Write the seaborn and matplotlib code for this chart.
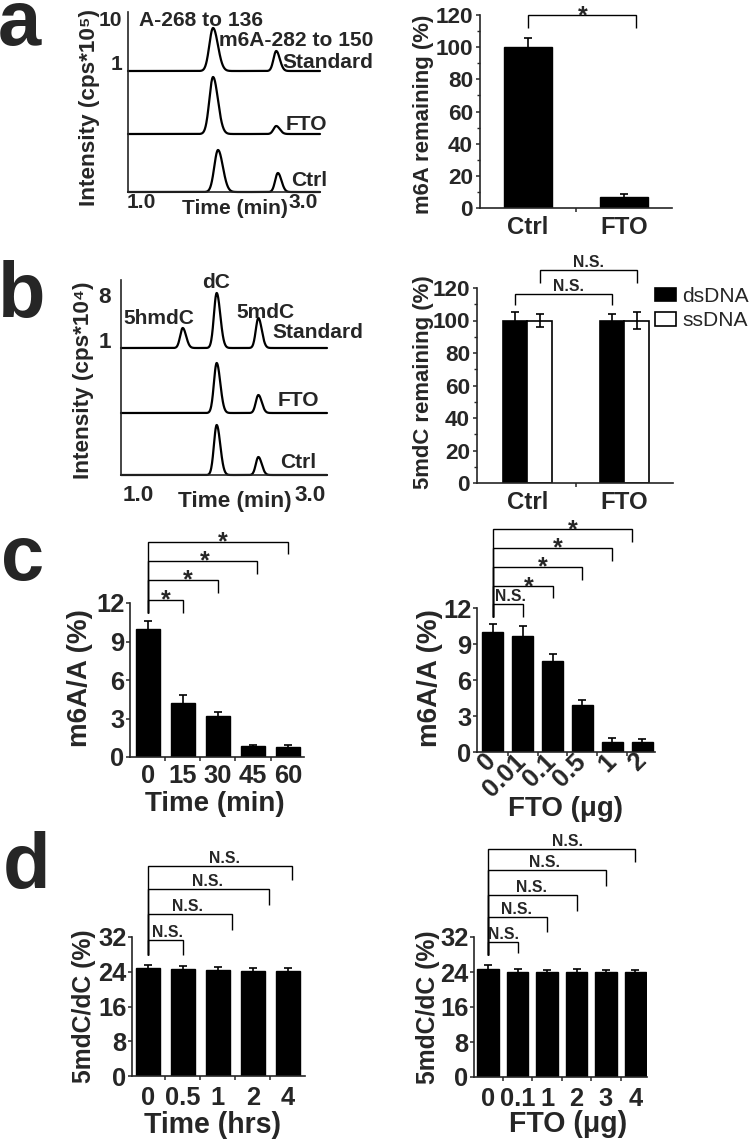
import numpy as np
import pandas as pd
import seaborn as sns
import matplotlib
matplotlib.use('Agg')
import matplotlib.pyplot as plt
from matplotlib import font_manager
from matplotlib.patches import Patch
from matplotlib.transforms import Affine2D

W, H = 750, 1143

# ---- chromatograms (peak positions in min, heights in display units) ----
a_traces = ['Standard', 'FTO', 'Ctrl']
a_offset = [121, 58, 0]
a_A_pos = [1.885, 1.885, 1.945]
a_A_height = [43, 57, 42]
a_m6A_pos = [2.65, 2.65, 2.67]
a_m6A_height = [20, 8, 19]

b_traces = ['Standard', 'FTO', 'Ctrl']
b_offset = [127, 62, 0]
b_5hmdC_pos = [1.52, 1.52, 1.52]
b_5hmdC_height = [20, 0, 0]
b_dC_pos = [1.915, 1.915, 1.915]
b_dC_height = [55, 50, 50]
b_5mdC_pos = [2.40, 2.40, 2.40]
b_5mdC_height = [30, 18, 18]

# ---- bar data ----
a_groups = ['Ctrl', 'FTO']
a_remaining = [100, 6.8]
a_err = [5.5, 2.2]

b_groups = ['Ctrl', 'FTO']
b_ds = [100, 100]
b_ds_err = [5, 4]
b_ss = [100, 100]
b_ss_err = [4, 5]

c_time = ['0', '15', '30', '45', '60']
c_time_val = [10.0, 4.2, 3.2, 0.85, 0.8]
c_time_err = [0.6, 0.6, 0.3, 0.12, 0.12]

c_dose = ['0', '0.01', '0.1', '0.5', '1', '2']
c_dose_val = [10.0, 9.7, 7.6, 3.9, 0.8, 0.8]
c_dose_err = [0.7, 0.8, 0.55, 0.4, 0.35, 0.25]

d_time = ['0', '0.5', '1', '2', '4']
d_time_val = [24.8, 24.7, 24.3, 24.2, 24.2]
d_time_err = [0.7, 0.6, 0.8, 0.6, 0.6]

d_dose = ['0', '0.1', '1', '2', '3', '4']
d_dose_val = [24.7, 24.1, 24.1, 24.1, 24.1, 24.0]
d_dose_err = [0.8, 0.7, 0.3, 0.6, 0.4, 0.5]

# ---- fonts ----
sns.set_style('ticks')
names = {f.name for f in font_manager.fontManager.ttflist}
NARROW = 'Liberation Sans Narrow' in names
FONT = 'Liberation Sans Narrow' if NARROW else 'Liberation Sans'
WIDE = 'Liberation Sans'
SC = 1 / 0.82 if NARROW else 1.08


def fs(x):
    return x * SC


plt.rcParams['font.family'] = [FONT, 'Liberation Sans', 'DejaVu Sans']
plt.rcParams['font.weight'] = 'bold'
plt.rcParams['axes.labelweight'] = 'bold'
plt.rcParams['axes.linewidth'] = 1.2

fig = plt.figure(figsize=(W / 100, H / 100), dpi=100)
PX = Affine2D().scale(1 / W, -1 / H).translate(0, 1) + fig.transFigure


def add_ax(x0, y0, x1, y1):
    return fig.add_axes([x0 / W, 1 - y1 / H, (x1 - x0) / W, (y1 - y0) / H])


def place_labels(ax, xl=None, yl=None):
    if xl is not None:
        ax.xaxis.set_label_coords(xl[0], xl[1], transform=PX)
        ax.xaxis.label.set_va('center')
    if yl is not None:
        ax.yaxis.set_label_coords(yl[0], yl[1], transform=PX)
        ax.yaxis.label.set_va('center')


def peak(t, pos, h, sig):
    s = np.where(t < pos, sig, sig * 1.3)
    return h * np.exp(-0.5 * ((t - pos) / s) ** 2)


# ================= chromatogram a =================
ax = add_ax(128, 12, 320, 192)
t = np.linspace(0.855, 3.18, 800)
frames = []
for i, name in enumerate(a_traces):
    y = a_offset[i] + peak(t, a_A_pos[i], a_A_height[i], 0.045) + peak(t, a_m6A_pos[i], a_m6A_height[i], 0.033)
    frames.append(pd.DataFrame({'time': t, 'signal': y, 'trace': name}))
sns.lineplot(data=pd.concat(frames), x='time', y='signal', units='trace', estimator=None,
             color='black', linewidth=1.6, sort=False, legend=False, ax=ax)
for ln in ax.lines:
    ln.set_clip_on(False)
ax.set_xlim(0.855, 3.18)
ax.set_ylim(0, 180)
ax.set_xticks([1.02, 2.98], ['1.0', '3.0'])
ax.set_yticks([174, 130], ['10', '1'])
ax.tick_params(length=0, labelsize=fs(14))
ax.tick_params(axis='x', pad=1)
ax.tick_params(axis='y', pad=4)
sns.despine(ax=ax)
ax.set_xlabel('Time (min)', fontsize=fs(14))
ax.set_ylabel('Intensity (cps*10⁵)', fontsize=fs(15))
place_labels(ax, (235, 209), (90, 108))
tk = dict(fontsize=fs(14), ha='center', va='center')
ax.text(1.74, 172, 'A-268 to 136', **tk)
ax.text(2.89, 152, 'm6A-282 to 150', **tk)
ax.text(3.28, 130, 'Standard', **tk)
ax.text(3.02, 67, 'FTO', **tk)
ax.text(3.05, 12, 'Ctrl', **tk)

# ================= chromatogram b =================
ax = add_ax(121, 280, 327, 475)
t = np.linspace(0.802, 3.198, 800)
frames = []
for i, name in enumerate(b_traces):
    y = (b_offset[i] + peak(t, b_5hmdC_pos[i], b_5hmdC_height[i], 0.03)
         + peak(t, b_dC_pos[i], b_dC_height[i], 0.032) + peak(t, b_5mdC_pos[i], b_5mdC_height[i], 0.03))
    frames.append(pd.DataFrame({'time': t, 'signal': y, 'trace': name}))
sns.lineplot(data=pd.concat(frames), x='time', y='signal', units='trace', estimator=None,
             color='black', linewidth=1.6, sort=False, legend=False, ax=ax)
for ln in ax.lines:
    ln.set_clip_on(False)
ax.set_xlim(0.802, 3.198)
ax.set_ylim(0, 195)
ax.set_xticks([1.0, 3.0], ['1.0', '3.0'])
ax.set_yticks([180, 135], ['8', '1'])
ax.tick_params(length=0, labelsize=fs(15))
ax.tick_params(axis='x', pad=7)
ax.tick_params(axis='y', pad=7)
sns.despine(ax=ax)
ax.set_xlabel('Time (min)', fontsize=fs(15))
ax.set_ylabel('Intensity (cps*10⁴)', fontsize=fs(15))
place_labels(ax, (235, 501), (84, 380))
tk = dict(fontsize=fs(14), ha='center', va='center')
ax.text(1.245, 156, '5hmdC', **tk)
ax.text(1.91, 192, 'dC', **tk)
ax.text(2.48, 163, '5mdC', **tk)
ax.text(3.09, 143, 'Standard', **tk)
ax.text(2.86, 74, 'FTO', **tk)
ax.text(2.86, 12, 'Ctrl', **tk)


# ================= bar helpers =================
def finish_bar_axis(ax, labels, xlim, ylim, yticks, ytick_fs, xtick_fs, xpad, ypad):
    n = len(labels)
    ax.set_xlim(*xlim)
    ax.set_ylim(*ylim)
    ax.set_xticks(np.arange(n), labels)
    ax.set_xticks(np.arange(0.5, xlim[1], 1.0), minor=True)
    ax.set_yticks(yticks)
    ax.set_xlabel('')
    ax.tick_params(axis='x', which='major', length=0, pad=xpad, labelsize=xtick_fs)
    ax.tick_params(axis='x', which='minor', length=3, width=1.1, direction='out')
    ax.tick_params(axis='y', which='major', length=3, width=1.1, pad=ypad, labelsize=ytick_fs, direction='out')
    sns.despine(ax=ax)


def errbars(ax, x, vals, errs):
    ax.errorbar(x, vals, yerr=errs, fmt='none', ecolor='black', elinewidth=1.2,
                capsize=2.6, capthick=1.2, zorder=5, clip_on=False)


def bracket(ax, x0, x1, top, lb, rb):
    ax.plot([x0, x0, x1, x1], [lb, top, top, rb], color='black', lw=1.0, clip_on=False,
            solid_capstyle='butt', solid_joinstyle='miter')


def mark(ax, x, y, s, size, family=None):
    kw = dict(ha='center', va='baseline', fontsize=size, clip_on=False)
    if family:
        kw['family'] = family
    ax.text(x, y, s, **kw)


# ================= bar a =================
ax = add_ax(480, 15, 672, 208)
sns.barplot(x=a_groups, y=a_remaining, color='black', width=0.5, errorbar=None,
            edgecolor='black', saturation=1, ax=ax)
errbars(ax, np.arange(2), a_remaining, a_err)
finish_bar_axis(ax, a_groups, (-0.5, 1.5), (0, 120), np.arange(0, 121, 20), fs(15), fs(16), 6, 2)
ax.set_yticks(np.arange(10, 120, 20), minor=True)
ax.tick_params(axis='y', which='minor', length=2, width=1.0)
ax.set_ylabel('m6A remaining (%)', fontsize=fs(14.8))
place_labels(ax, None, (423, 114))
bracket(ax, 0, 1.125, 120, 112, 112)
mark(ax, 0.57, 115.0, '*', 18, WIDE)

# ================= bar b =================
ax = add_ax(477, 288, 673, 483)
df_b = pd.DataFrame({'group': b_groups * 2, 'strand': ['dsDNA'] * 2 + ['ssDNA'] * 2,
                     'value': b_ds + b_ss})
sns.barplot(data=df_b, x='group', y='value', hue='strand',
            palette={'dsDNA': 'black', 'ssDNA': 'white'}, width=0.5, errorbar=None,
            edgecolor='black', linewidth=1.2, saturation=1, legend=False, ax=ax)
errbars(ax, np.arange(2) - 0.125, b_ds, b_ds_err)
errbars(ax, np.arange(2) + 0.125, b_ss, b_ss_err)
finish_bar_axis(ax, b_groups, (-0.52, 1.5), (0, 120), np.arange(0, 121, 20), fs(15), fs(16), 6, 2)
ax.set_yticks(np.arange(10, 120, 20), minor=True)
ax.tick_params(axis='y', which='minor', length=2, width=1.0)
ax.set_ylabel('5mdC remaining (%)', fontsize=fs(14.8))
place_labels(ax, None, (423, 382))
bracket(ax, -0.125, 0.875, 116.3, 109.5, 109.5)
bracket(ax, 0.125, 1.125, 131, 123, 123)
mark(ax, 0.42, 118.2, 'N.S.', fs(10.5))
mark(ax, 0.63, 132.9, 'N.S.', fs(10.5))
em = fs(14) * 100 / 72
ax.legend([Patch(facecolor='black', edgecolor='black', linewidth=1.2),
           Patch(facecolor='white', edgecolor='black', linewidth=1.2)],
          ['dsDNA', 'ssDNA'], loc='upper left', bbox_to_anchor=(655, 287), bbox_transform=PX,
          frameon=False, borderpad=0, borderaxespad=0, handlelength=21 / em, handleheight=0.6,
          handletextpad=0.3, labelspacing=0.25, prop={'weight': 'normal', 'size': fs(14)})

# ================= bar c left =================
ax = add_ax(130, 603, 304, 757)
sns.barplot(x=c_time, y=c_time_val, color='black', width=0.71, errorbar=None,
            edgecolor='black', saturation=1, ax=ax)
errbars(ax, np.arange(5), c_time_val, c_time_err)
finish_bar_axis(ax, c_time, (-0.514, 4.457), (0, 12), np.arange(0, 13, 3), fs(17), fs(17), 5, 1)
ax.set_ylabel('m6A/A (%)', fontsize=fs(18.5))
ax.set_xlabel('Time (min)', fontsize=fs(18.5))
place_labels(ax, (215, 804), (80, 678))
c_left_right = [1, 2, 3.1, 4]
c_left_top = [12.24, 13.8, 15.28, 16.76]
c_left_rb = [11.22, 12.78, 14.26, 15.82]
c_left_star_x = [0.51, 1.14, 1.63, 2.14]
for i in range(4):
    bracket(ax, 0, c_left_right[i], c_left_top[i], 11.22, c_left_rb[i])
    mark(ax, c_left_star_x[i], c_left_top[i] - 0.6, '*', 18, WIDE)

# ================= bar c right =================
ax = add_ax(477, 608, 655, 752)
sns.barplot(x=c_dose, y=c_dose_val, color='black', width=0.7, errorbar=None,
            edgecolor='black', saturation=1, ax=ax)
errbars(ax, np.arange(6), c_dose_val, c_dose_err)
finish_bar_axis(ax, c_dose, (-0.517, 5.417), (0, 12), np.arange(0, 13, 3), fs(17), fs(17), 4, 1)
for lbl in ax.get_xticklabels():
    lbl.set_rotation(45)
    lbl.set_ha('right')
    lbl.set_va('center')
    lbl.set_rotation_mode('anchor')
ax.set_ylabel('m6A/A (%)', fontsize=fs(18.5))
ax.set_xlabel('FTO (μg)', fontsize=fs(18.5))
place_labels(ax, (566, 809), (430, 678))
c_right_right = [1, 2, 3, 4, 4.65]
c_right_top = [12.33, 13.83, 15.42, 17.0, 18.58]
c_right_rb = [11.25, 12.83, 14.33, 15.92, 17.5]
c_right_txt_x = [0.6, 1.2, 1.68, 2.17, 2.67]
for i in range(5):
    bracket(ax, 0, c_right_right[i], c_right_top[i], 11.25, c_right_rb[i])
    if i == 0:
        mark(ax, c_right_txt_x[i], c_right_top[i] + 0.25, 'N.S.', fs(10.5))
    else:
        mark(ax, c_right_txt_x[i], c_right_top[i] - 0.65, '*', 18, WIDE)

# ================= bar d left =================
ax = add_ax(132, 937, 305, 1076)
sns.barplot(x=d_time, y=d_time_val, color='black', width=0.71, errorbar=None,
            edgecolor='black', saturation=1, ax=ax)
errbars(ax, np.arange(5), d_time_val, d_time_err)
finish_bar_axis(ax, d_time, (-0.457, 4.486), (0, 32), np.arange(0, 33, 8), fs(17), fs(17), 7, 1)
ax.set_ylabel('5mdC/dC (%)', fontsize=fs(16.5))
ax.set_xlabel('Time (hrs)', fontsize=fs(19))
place_labels(ax, (212, 1125), (84, 1006))
d_left_right = [1, 2.4, 3.46, 4.11]
d_left_top = [31.3, 37.3, 43.1, 48.4]
d_left_rb = [27.9, 33.6, 39.4, 45.2]
d_left_txt_x = [0.57, 1.14, 1.69, 2.2]
for i in range(4):
    bracket(ax, 0, d_left_right[i], d_left_top[i], 27.9, d_left_rb[i])
    mark(ax, d_left_txt_x[i], d_left_top[i] + 0.7, 'N.S.', fs(10.5))

# ================= bar d right =================
ax = add_ax(474, 937, 647, 1077)
sns.barplot(x=d_dose, y=d_dose_val, color='black', width=0.73, errorbar=None,
            edgecolor='black', saturation=1, ax=ax)
errbars(ax, np.arange(6), d_dose_val, d_dose_err)
finish_bar_axis(ax, d_dose, (-0.475, 5.39), (0, 32), np.arange(0, 33, 8), fs(17), fs(17), 7, 1)
ax.set_ylabel('5mdC/dC (%)', fontsize=fs(16.5))
ax.set_xlabel('FTO (μg)', fontsize=fs(19))
place_labels(ax, (568, 1124), (428, 1007))
d_right_right = [1, 2, 3, 4, 5]
d_right_top = [30.9, 36.6, 41.6, 47.3, 52.1]
d_right_rb = [28.3, 33.1, 37.9, 43.7, 49.1]
d_right_txt_x = [0.54, 0.98, 1.49, 1.93, 2.71]
for i in range(5):
    bracket(ax, 0, d_right_right[i], d_right_top[i], 27.9, d_right_rb[i])
    mark(ax, d_right_txt_x[i], d_right_top[i] + 0.7, 'N.S.', fs(10.5))

# ================= panel letters =================
for letter, (x, y) in zip('abcd', [(-2, 45), (-2, 317), (1, 580), (3, 888)]):
    fig.text(x, y, letter, transform=PX, fontsize=56, family=WIDE, weight='bold',
             ha='left', va='baseline')

fig.savefig('out.png', dpi=100)
